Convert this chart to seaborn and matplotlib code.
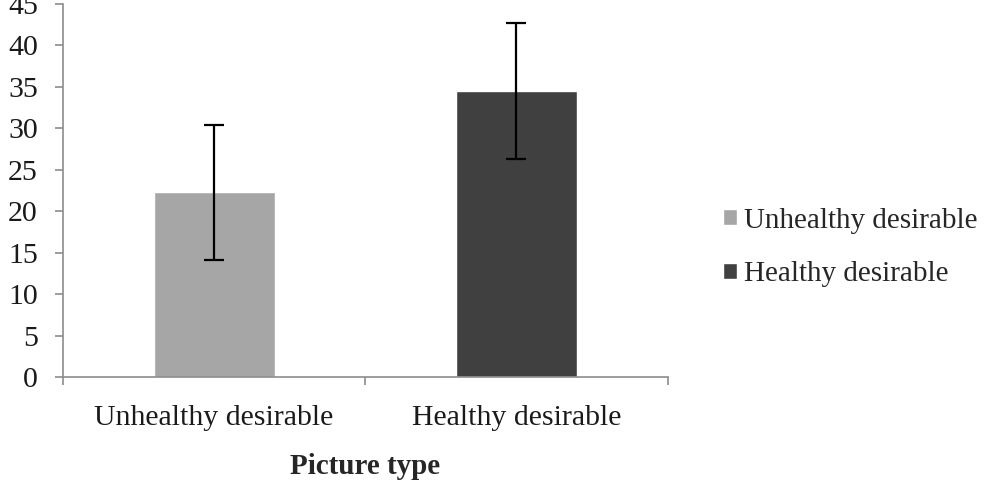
import matplotlib
matplotlib.use("Agg")
import matplotlib.pyplot as plt
import seaborn as sns
import pandas as pd
from matplotlib.ticker import FixedLocator, NullFormatter

categories = ["Unhealthy desirable", "Healthy desirable"]
means = [22.3, 34.5]
errors = [8.15, 8.2]
colors = ["#a6a6a6", "#404040"]
yticks = [0, 5, 10, 15, 20, 25, 30, 35, 40, 45]
xlabel = "Picture type"

sns.set_theme(style="white")
plt.rcParams["font.family"] = ["Liberation Serif", "DejaVu Serif"]

df = pd.DataFrame({"type": categories, "value": means})

fig = plt.figure(figsize=(9.87, 4.92), dpi=100)
ax = fig.add_axes([0.0638, 0.2337, 0.6125, 0.7582])

sns.barplot(data=df, x="type", y="value", hue="type", palette=colors,
            order=categories, hue_order=categories, width=0.4, dodge=False,
            errorbar=None, ax=ax, legend=True, saturation=1)

ax.errorbar(range(len(categories)), means, yerr=errors, fmt="none",
            ecolor="black", elinewidth=1.6, capsize=7, capthick=1.6, zorder=5)

ax.set_xlim(-0.5, 1.5)
ax.set_ylim(0, 45)
ax.set_yticks(yticks)
ax.set_yticklabels([str(t) for t in yticks])
ax.set_ylabel("")
ax.set_xlabel(xlabel, fontsize=21, fontweight="bold", labelpad=16)

for s in ["top", "right"]:
    ax.spines[s].set_visible(False)
for s in ["left", "bottom"]:
    ax.spines[s].set_color("#8c8c8c")
    ax.spines[s].set_linewidth(1.2)

ax.tick_params(axis="y", which="major", direction="out", length=6, width=1.2,
               color="#8c8c8c", labelsize=21.5, pad=12, left=True)
ax.tick_params(axis="x", which="major", length=0, labelsize=21.5, pad=20)
ax.xaxis.set_minor_locator(FixedLocator([-0.5, 0.5, 1.5]))
ax.xaxis.set_minor_formatter(NullFormatter())
ax.tick_params(axis="x", which="minor", direction="out", length=6, width=1.2,
               color="#8c8c8c", bottom=True)
for lbl in ax.get_xticklabels() + ax.get_yticklabels():
    lbl.set_color("#1a1a1a")

handles, labels = ax.get_legend_handles_labels()
ax.legend(handles, labels, loc="center left", bbox_to_anchor=(0.7325, 0.497),
          bbox_transform=fig.transFigure, frameon=False, fontsize=21,
          handlelength=0.48, handleheight=0.48, handletextpad=0.25,
          labelspacing=0.95, borderaxespad=0, borderpad=0)

fig.savefig("out.png", dpi=100)
